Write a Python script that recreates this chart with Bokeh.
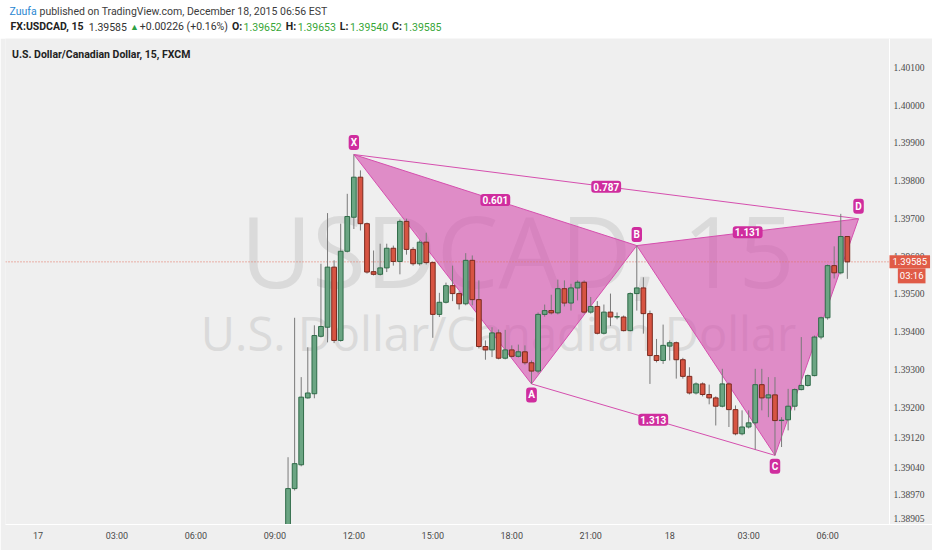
from bokeh.plotting import figure
from bokeh.models import Label, Span, FixedTicker, ColumnDataSource, Range1d
from bokeh.layouts import column
from bokeh.embed import file_html
from bokeh.resources import INLINE

# ---------------- data (15-minute bars, index counted from Dec 17 00:00) ----------------
bar_index = list(range(38, 124))
opens = [1.38880, 1.38985, 1.39048, 1.39225, 1.39236, 1.39388, 1.39412, 1.39571, 1.39377, 1.39613,
         1.39703, 1.39809, 1.39686, 1.39559, 1.39552, 1.39569, 1.39621, 1.39586, 1.39692, 1.39618,
         1.39580, 1.39637, 1.39583, 1.39446, 1.39478, 1.39522, 1.39501, 1.39474, 1.39589, 1.39485,
         1.39361, 1.39352, 1.39397, 1.39330, 1.39352, 1.39335, 1.39347, 1.39318, 1.39296, 1.39446,
         1.39456, 1.39450, 1.39514, 1.39476, 1.39516, 1.39531, 1.39452, 1.39467, 1.39396, 1.39452,
         1.39439, 1.39439, 1.39403, 1.39501, 1.39516, 1.39448, 1.39337, 1.39324, 1.39362, 1.39371,
         1.39326, 1.39282, 1.39238, 1.39262, 1.39234, 1.39225, 1.39203, 1.39262, 1.39194, 1.39130,
         1.39148, 1.39159, 1.39260, 1.39225, 1.39233, 1.39165, 1.39167, 1.39203, 1.39247, 1.39258,
         1.39284, 1.39386, 1.39437, 1.39575, 1.39556, 1.39652]
highs = [1.39068, 1.39437, 1.39280, 1.39359, 1.39417, 1.39580, 1.39714, 1.39589, 1.39686, 1.39765,
         1.39869, 1.39827, 1.39689, 1.39615, 1.39633, 1.39633, 1.39628, 1.39697, 1.39699, 1.39624,
         1.39642, 1.39662, 1.39586, 1.39503, 1.39530, 1.39575, 1.39507, 1.39608, 1.39602, 1.39536,
         1.39377, 1.39412, 1.39406, 1.39405, 1.39364, 1.39366, 1.39364, 1.39324, 1.39451, 1.39472,
         1.39498, 1.39538, 1.39536, 1.39527, 1.39536, 1.39536, 1.39492, 1.39481, 1.39472, 1.39501,
         1.39451, 1.39443, 1.39504, 1.39628, 1.39544, 1.39456, 1.39381, 1.39419, 1.39377, 1.39374,
         1.39331, 1.39306, 1.39266, 1.39266, 1.39260, 1.39229, 1.39302, 1.39266, 1.39205, 1.39192,
         1.39192, 1.39302, 1.39302, 1.39280, 1.39280, 1.39174, 1.39249, 1.39250, 1.39386, 1.39287,
         1.39390, 1.39440, 1.39578, 1.39626, 1.39712, 1.39653]
lows = [1.38860, 1.38980, 1.39044, 1.39223, 1.39224, 1.39385, 1.39372, 1.39370, 1.39374, 1.39610,
        1.39672, 1.39668, 1.39554, 1.39549, 1.39549, 1.39558, 1.39575, 1.39552, 1.39604, 1.39575,
        1.39575, 1.39578, 1.39384, 1.39439, 1.39475, 1.39481, 1.39459, 1.39470, 1.39470, 1.39356,
        1.39326, 1.39333, 1.39327, 1.39327, 1.39332, 1.39332, 1.39313, 1.39262, 1.39290, 1.39440,
        1.39446, 1.39446, 1.39467, 1.39456, 1.39483, 1.39448, 1.39448, 1.39393, 1.39393, 1.39415,
        1.39433, 1.39401, 1.39401, 1.39456, 1.39395, 1.39262, 1.39319, 1.39315, 1.39324, 1.39276,
        1.39276, 1.39234, 1.39234, 1.39229, 1.39208, 1.39152, 1.39200, 1.39148, 1.39126, 1.39126,
        1.39144, 1.39088, 1.39192, 1.39174, 1.39073, 1.39095, 1.39139, 1.39192, 1.39245, 1.39255,
        1.39282, 1.39380, 1.39432, 1.39541, 1.39552, 1.39540]
closes = [1.38985, 1.39051, 1.39227, 1.39238, 1.39390, 1.39414, 1.39571, 1.39377, 1.39613, 1.39705,
          1.39809, 1.39686, 1.39558, 1.39552, 1.39569, 1.39621, 1.39586, 1.39692, 1.39618, 1.39580,
          1.39637, 1.39583, 1.39446, 1.39478, 1.39522, 1.39501, 1.39474, 1.39589, 1.39485, 1.39361,
          1.39352, 1.39397, 1.39330, 1.39352, 1.39335, 1.39347, 1.39318, 1.39296, 1.39446, 1.39456,
          1.39450, 1.39514, 1.39476, 1.39516, 1.39531, 1.39452, 1.39467, 1.39396, 1.39452, 1.39439,
          1.39440, 1.39403, 1.39501, 1.39516, 1.39448, 1.39337, 1.39324, 1.39364, 1.39371, 1.39326,
          1.39282, 1.39238, 1.39262, 1.39234, 1.39225, 1.39203, 1.39262, 1.39194, 1.39130, 1.39148,
          1.39159, 1.39260, 1.39225, 1.39233, 1.39165, 1.39166, 1.39203, 1.39247, 1.39258, 1.39284,
          1.39386, 1.39437, 1.39575, 1.39556, 1.39652, 1.39585]

# XABCD harmonic pattern
pattern_names = ["X", "A", "B", "C", "D"]
pattern_x = [48, 75, 91, 112, 124.7]
pattern_y = [1.39869, 1.39262, 1.39628, 1.39073, 1.39699]
ratio_pairs = [("X", "B"), ("X", "D"), ("B", "D"), ("A", "C")]
ratio_texts = ["0.601", "0.787", "1.131", "1.313"]

# axes
y_ticks = [1.40100, 1.40000, 1.39900, 1.39800, 1.39700, 1.39600, 1.39500, 1.39400,
           1.39300, 1.39200, 1.39120, 1.39040, 1.38970, 1.38905]
x_ticks = [0, 12, 24, 36, 48, 60, 72, 84, 96, 108, 120]
x_tick_labels = ["17", "03:00", "06:00", "09:00", "12:00", "15:00", "18:00", "21:00", "18", "03:00", "06:00"]

# header texts
author = "Zuufa"
published = "published on TradingView.com, December 18, 2015 06:56 EST"
symbol = "FX:USDCAD, 15"
last_price = "1.39585"
change = "+0.00226 (+0.16%)"
ohlc_keys = ["O:", "H:", "L:", "C:"]
ohlc_vals = ["1.39652", "1.39653", "1.39540", "1.39585"]
chart_title = "U.S. Dollar/Canadian Dollar, 15, FXCM"
watermark_1 = "USDCAD, 15"
watermark_2 = "U.S. Dollar/Canadian Dollar"
countdown = "03:16"

# ---------------- styles / layout ----------------
FONT = "Roboto"
BG = "#efefef"
UP_FILL, UP_LINE = "#6ba583", "#2f6b48"
DN_FILL, DN_LINE = "#d75442", "#7a2a1f"
WICK = "#7a7a7a"
PINK = "#d54fae"
MAGENTA = "#cf2d9e"
GREEN_TXT = "#37a637"
PRICE_RED = "#e05b47"

W, H_HEAD, H_MAIN = 932, 38, 512
FRAME_LEFT, FRAME_BOTTOM_BORDER = 5, 26
X_START, X_END = -4.94, 135.94
Y_START, Y_END = 1.38890, 1.40176
PX_PER_BAR = (W - FRAME_LEFT) / (X_END - X_START)


def page_to_x(px):
    return X_START + (px - FRAME_LEFT) / PX_PER_BAR


X_SEP = page_to_x(889)      # border between price pane and price scale
X_SCALE_TXT = page_to_x(893)

# ---------------- header figure ----------------
h = figure(width=W, height=H_HEAD, x_range=Range1d(0, 1), y_range=Range1d(0, 1),
           x_axis_type=None, y_axis_type=None, output_backend="svg", toolbar_location=None,
           min_border=0, outline_line_color=None,
           background_fill_color="white", border_fill_color="white")
h.grid.visible = False

# approximate Roboto advance widths (em) used to chain the header runs
CW = {d: 0.562 for d in "0123456789"}
CW.update({".": 0.263, ",": 0.196, ":": 0.242, " ": 0.248, "+": 0.567, "(": 0.342, ")": 0.348,
           "%": 0.733, "O": 0.688, "H": 0.713, "L": 0.539, "C": 0.652, "F": 0.553, "X": 0.627,
           "U": 0.648, "S": 0.593, "D": 0.655, "A": 0.652, "\u25b2": 0.77})


def text_w(s, size, bold=False):
    return sum(CW.get(c, 0.55) for c in s) * size * (1.04 if bold else 1.0)


def hl(x, y, text, color="#3c3c3c", bold=False, size=10.5):
    h.add_layout(Label(x=x, y=y, x_units="screen", y_units="screen", text=text,
                       text_font=FONT, text_font_size=f"{size}px", text_color=color,
                       text_font_style="bold" if bold else "normal",
                       text_baseline="middle", text_align="left"))


LINE1_Y, LINE2_Y = 27.5, 11.7
hl(4, LINE1_Y, author, color="#2a86d1")
hl(34, LINE1_Y, published)

runs = [(symbol, "#222222", True, 3.5), (last_price, "#333333", False, 3),
        ("\u25b2", "#2ea043", False, 3), (change, "#333333", False, 4)]
for k, v in zip(ohlc_keys, ohlc_vals):
    runs.append((k, "#222222", True, 1.5))
    runs.append((v, GREEN_TXT, False, 4))
cx = 5
for txt, col, bold, gap in runs:
    size = 9 if txt == "\u25b2" else 10.5
    hl(cx, LINE2_Y, txt, color=col, bold=bold, size=size)
    cx += text_w(txt, size, bold) + gap

# ---------------- main chart ----------------
p = figure(width=W, height=H_MAIN, x_range=Range1d(X_START, X_END), y_range=Range1d(Y_START, Y_END),
           y_axis_location=None, output_backend="svg", toolbar_location=None,
           min_border_left=FRAME_LEFT, min_border_right=0, min_border_top=0,
           min_border_bottom=FRAME_BOTTOM_BORDER,
           background_fill_color=BG, border_fill_color=BG, outline_line_color=None)
p.grid.visible = False

# watermark
p.add_layout(Label(x=512, y=274.5, x_units="screen", y_units="screen", text=watermark_1,
                   text_font="Open Sans", text_font_size="98px", text_color="#dadada",
                   text_align="center", text_baseline="middle", level="underlay"))
p.add_layout(Label(x=493, y=192, x_units="screen", y_units="screen", text=watermark_2,
                   text_font="Open Sans", text_font_size="47px", text_color="#dadada",
                   text_align="center", text_baseline="middle", level="underlay"))

# title inside pane
p.add_layout(Label(x=6.5, y=470, x_units="screen", y_units="screen", text=chart_title,
                   text_font=FONT, text_font_size="10.5px", text_font_style="bold",
                   text_color="#222222", text_baseline="middle"))

# price-scale separator
p.add_layout(Span(location=X_SEP, dimension="height", line_color="white", line_width=1))

# pattern
pt = dict(zip(pattern_names, zip(pattern_x, pattern_y)))
tri_xs = [[pt[n][0] for n in "XAB"], [pt[n][0] for n in "BCD"]]
tri_ys = [[pt[n][1] for n in "XAB"], [pt[n][1] for n in "BCD"]]
p.patches(xs=tri_xs, ys=tri_ys, fill_color=PINK, fill_alpha=0.62, line_color=PINK, line_width=1)
p.segment(x0=[pt["X"][0], pt["A"][0]], y0=[pt["X"][1], pt["A"][1]],
          x1=[pt["D"][0], pt["C"][0]], y1=[pt["D"][1], pt["C"][1]], line_color=PINK, line_width=1)

# last price line
last_close = closes[-1]
p.segment(x0=[X_START], y0=[last_close], x1=[X_SEP], y1=[last_close],
          line_color="#e4705c", line_dash="1 2", line_width=1)

# candles
up = [c >= o for o, c in zip(opens, closes)]
src = ColumnDataSource(dict(
    x=bar_index, h=highs, l=lows,
    top=[max(o, c) for o, c in zip(opens, closes)],
    bottom=[min(o, c) for o, c in zip(opens, closes)],
    fill=[UP_FILL if u else DN_FILL for u in up],
    line=[UP_LINE if u else DN_LINE for u in up]))
p.segment(x0="x", y0="l", x1="x", y1="h", source=src, line_color=WICK, line_width=1)
p.vbar(x="x", width=0.72, top="top", bottom="bottom", source=src,
       fill_color="fill", line_color="line", line_width=1)

# price scale labels
p.text(x=[X_SCALE_TXT] * len(y_ticks), y=y_ticks, text=[f"{t:.5f}" for t in y_ticks],
       text_font=FONT, text_font_size="9.5px", text_color="#4a4a4a",
       text_align="left", text_baseline="middle")

# ratio labels at the middle of each leg
for (a, b), t in zip(ratio_pairs, ratio_texts):
    mx = (pt[a][0] + pt[b][0]) / 2
    my = (pt[a][1] + pt[b][1]) / 2
    p.add_layout(Label(x=mx, y=my, text=t, text_align="center", text_baseline="middle",
                       text_font=FONT, text_font_size="10px", text_font_style="bold",
                       text_color="white", background_fill_color=MAGENTA,
                       padding=2, border_radius=3))

# point letters
offsets = {"X": 12, "A": -11, "B": 11, "C": -11, "D": 12.5}
for n in pattern_names:
    p.add_layout(Label(x=pt[n][0], y=pt[n][1], y_offset=offsets[n], text=n,
                       text_align="center", text_baseline="middle",
                       text_font=FONT, text_font_size="10px", text_font_style="bold",
                       text_color="white", background_fill_color=MAGENTA,
                       padding=2, border_radius=3))

# x axis
p.xaxis.ticker = FixedTicker(ticks=x_ticks)
p.xaxis.major_label_overrides = {t: s for t, s in zip(x_ticks, x_tick_labels)}
p.xaxis.major_tick_line_color = None
p.xaxis.major_tick_out = 0
p.xaxis.major_tick_in = 0
p.xaxis.minor_tick_line_color = None
p.xaxis.axis_line_color = "white"
p.xaxis.major_label_text_font = FONT
p.xaxis.major_label_text_font_size = "9px"
p.xaxis.major_label_text_color = "#4a4a4a"
p.xaxis.major_label_standoff = 6

# last price + countdown boxes on the price scale
p.add_layout(Label(x=X_SEP, y=last_close, text=last_price,
                   text_align="left", text_baseline="middle", text_font=FONT,
                   text_font_size="9.5px", text_color="white",
                   background_fill_color=PRICE_RED, padding=3))
p.add_layout(Label(x=page_to_x(925), y=last_close, y_offset=-14, text=countdown,
                   text_align="right", text_baseline="middle", text_font=FONT,
                   text_font_size="9.5px", text_color="white",
                   background_fill_color=PRICE_RED, padding=2))

layout = column(h, p, spacing=0)
open("out.html", "w").write(file_html(layout, INLINE))
